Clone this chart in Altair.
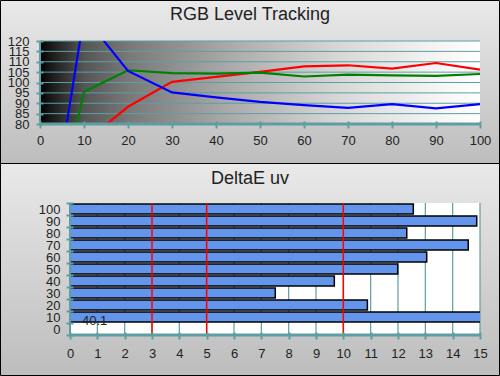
import altair as alt
import pandas as pd

# ---------------- data ----------------
levels = [0, 10, 20, 30, 40, 50, 60, 70, 80, 90, 100]
red = [0, 71.0, 88.3, 100.3, 102.7, 105.1, 107.8, 108.3, 106.7, 109.4, 106.2]
green = [0, 95.5, 105.9, 104.5, 104.3, 104.8, 102.9, 103.8, 103.4, 103.2, 104.1]
blue = [0, 132.0, 105.6, 95.2, 92.8, 90.7, 89.1, 87.8, 89.6, 87.5, 89.6]
top_y_ticks = [80, 85, 90, 95, 100, 105, 110, 115, 120]

de_cats = ["100", "90", "80", "70", "60", "50", "40", "30", "20", "10", "0"]
de_vals = [12.56, 14.88, 12.32, 14.57, 13.05, 11.99, 9.67, 7.51, 10.88, 40.1, 0.0]
de_ticks = list(range(16))
de_limits = [3, 5, 10]

# ---------------- style ----------------
TEAL = "#5f9ea0"
FONT = "Liberation Sans"
TXT = "#222222"
W = 440
H1 = 83
H2 = 132

rgb_df = pd.DataFrame({
    "level": levels * 3,
    "value": red + green + blue,
    "channel": ["R"] * len(levels) + ["G"] * len(levels) + ["B"] * len(levels),
})
de_df = pd.DataFrame({"c": de_cats, "v": de_vals})
one = pd.DataFrame({"k": [0]})

panel_grad = alt.Gradient(
    gradient="linear",
    stops=[alt.GradientStop(color="#e9e9e9", offset=0),
           alt.GradientStop(color="#bdbdbd", offset=1)],
    x1=0, x2=0, y1=0, y2=1)

plot_grad = alt.Gradient(
    gradient="linear",
    stops=[alt.GradientStop(color="#000000", offset=0),
           alt.GradientStop(color="#151515", offset=0.02),
           alt.GradientStop(color="#555555", offset=0.1),
           alt.GradientStop(color="#787878", offset=0.2),
           alt.GradientStop(color="#a8a8a8", offset=0.42),
           alt.GradientStop(color="#d4d4d4", offset=0.66),
           alt.GradientStop(color="#f2f2f2", offset=0.88),
           alt.GradientStop(color="#ffffff", offset=1)],
    x1=0, x2=1, y1=0, y2=0)


def ax(**kw):
    return alt.Axis(
        labelFont=FONT, labelFontSize=13, labelColor=TXT, title=None,
        tickColor=TEAL, tickWidth=2, domain=False, grid=False, zindex=2,
        labelFlush=False, labelOverlap=False, **kw)


# ---------------- top chart ----------------
sx_top = alt.Scale(domain=[0, 100], nice=False, zero=False)
sy_top = alt.Scale(domain=[80, 120], nice=False, zero=False)
ax_top_x = ax(values=levels, offset=-3, tickSize=7, labelPadding=6)
ax_top_y = ax(values=top_y_ticks, offset=-3, tickSize=7, labelPadding=7)

top_panel = alt.Chart(one).mark_rect(fill=panel_grad, stroke="black", strokeWidth=1).encode(
    x=alt.value(-39.5), x2=alt.value(459.5), y=alt.value(-40.5), y2=alt.value(122.5))

top_bg = alt.Chart(one).mark_rect(fill=plot_grad).encode(
    x=alt.X(datum=0, scale=sx_top, axis=ax_top_x, title=None), x2=alt.X2(datum=100),
    y=alt.Y(datum=80, scale=sy_top, axis=ax_top_y, title=None), y2=alt.Y2(datum=120))

top_grid = alt.Chart(pd.DataFrame({"g": top_y_ticks})).mark_rule(color=TEAL, strokeWidth=1).encode(
    y=alt.Y("g:Q", scale=sy_top, axis=ax_top_y, title=None),
    x=alt.X(datum=0, scale=sx_top, axis=ax_top_x, title=None), x2=alt.X2(datum=100))

lines = alt.Chart(rgb_df).mark_line(clip=True, strokeWidth=2.2).encode(
    x=alt.X("level:Q", scale=sx_top, axis=ax_top_x, title=None),
    y=alt.Y("value:Q", scale=sy_top, axis=ax_top_y, title=None),
    color=alt.Color("channel:N", legend=None,
                    scale=alt.Scale(domain=["R", "G", "B"], range=["#ff0000", "#008000", "#0000ff"])),
)

top_xdom = alt.Chart(one).mark_rule(color=TEAL, strokeWidth=3).encode(
    x=alt.X(datum=0, scale=sx_top, axis=ax_top_x, title=None), x2=alt.X2(datum=100),
    y=alt.Y(datum=80, scale=sy_top, axis=ax_top_y, title=None))
top_ydom = alt.Chart(one).mark_rule(color=TEAL, strokeWidth=2).encode(
    x=alt.X(datum=0, scale=sx_top, axis=ax_top_x, title=None),
    y=alt.Y(datum=80, scale=sy_top, axis=ax_top_y, title=None), y2=alt.Y2(datum=120))

top_title = alt.Chart(one).mark_text(
    text="RGB Level Tracking", font=FONT, fontSize=18, color=TXT,
    align="center", baseline="alphabetic").encode(x=alt.value(210), y=alt.value(-21))

top = alt.layer(top_panel, top_bg, top_grid, lines, top_xdom, top_ydom, top_title).properties(
    width=W, height=H1)

# ---------------- bottom chart ----------------
sx_bot = alt.Scale(domain=[-450 / 410, 15], nice=False, zero=False)
sy_bot = alt.Scale(domain=de_cats, paddingInner=0, paddingOuter=0)
ax_bot_x = ax(values=de_ticks, offset=-3, tickSize=7, labelPadding=8)
ax_bot_y = ax(tickBand="extent", offset=-33, tickSize=7, labelPadding=6)

bot_panel = alt.Chart(one).mark_rect(fill=panel_grad, stroke="black", strokeWidth=1).encode(
    x=alt.value(-39.5), x2=alt.value(459.5), y=alt.value(-39.5), y2=alt.value(172.5))

white_bg = alt.Chart(one).mark_rect(fill="white").encode(
    x=alt.X(datum=0, scale=sx_bot, axis=ax_bot_x, title=None), x2=alt.X2(datum=15),
    y=alt.value(0), y2=alt.value(H2))

bot_grid = alt.Chart(pd.DataFrame({"t": de_ticks})).mark_rule(color=TEAL, strokeWidth=1.2).encode(
    x=alt.X("t:Q", scale=sx_bot, axis=ax_bot_x, title=None), y=alt.value(0), y2=alt.value(H2))

bars = alt.Chart(de_df).transform_filter("datum.v > 0").mark_bar(
    fill="#6495ed", stroke="black", strokeWidth=1.5, clip=True, height={"band": 0.82}).encode(
    x=alt.X("v:Q", scale=sx_bot, axis=ax_bot_x, title=None),
    x2=alt.X2(datum=0),
    y=alt.Y("c:N", scale=sy_bot, sort=de_cats, axis=ax_bot_y, title=None),
)

limits = alt.Chart(pd.DataFrame({"r": de_limits})).mark_rule(color="#ff0000", strokeWidth=1.5).encode(
    x=alt.X("r:Q", scale=sx_bot, axis=ax_bot_x, title=None), y=alt.value(0), y2=alt.value(H2))

over_label = alt.Chart(de_df).transform_filter("datum.v > 15").mark_text(
    align="left", baseline="middle", dx=12, dy=4, font=FONT, fontSize=13, color=TXT).encode(
    x=alt.X(datum=0, scale=sx_bot, axis=ax_bot_x, title=None),
    y=alt.Y("c:N", scale=sy_bot, sort=de_cats, axis=ax_bot_y, title=None),
    text=alt.Text("v:Q"))

bot_ydom = alt.Chart(one).mark_rule(color=TEAL, strokeWidth=2).encode(
    x=alt.X(datum=0, scale=sx_bot, axis=ax_bot_x, title=None), y=alt.value(0), y2=alt.value(H2))
bot_xdom = alt.Chart(one).mark_rule(color=TEAL, strokeWidth=3).encode(
    x=alt.X(datum=0, scale=sx_bot, axis=ax_bot_x, title=None), x2=alt.X2(datum=15), y=alt.value(H2))

bot_title = alt.Chart(one).mark_text(
    text="DeltaE uv", font=FONT, fontSize=18, color=TXT,
    align="center", baseline="alphabetic").encode(x=alt.value(210), y=alt.value(-19))

bottom = alt.layer(bot_panel, white_bg, bot_grid, bars, limits, over_label,
                   bot_ydom, bot_xdom, bot_title).properties(width=W, height=H2)

chart = alt.vconcat(top, bottom, spacing=79, bounds="flush").properties(
    padding=0
).configure_view(strokeWidth=0)

chart.save("out.html", embed_options={"renderer": "svg", "actions": False})
